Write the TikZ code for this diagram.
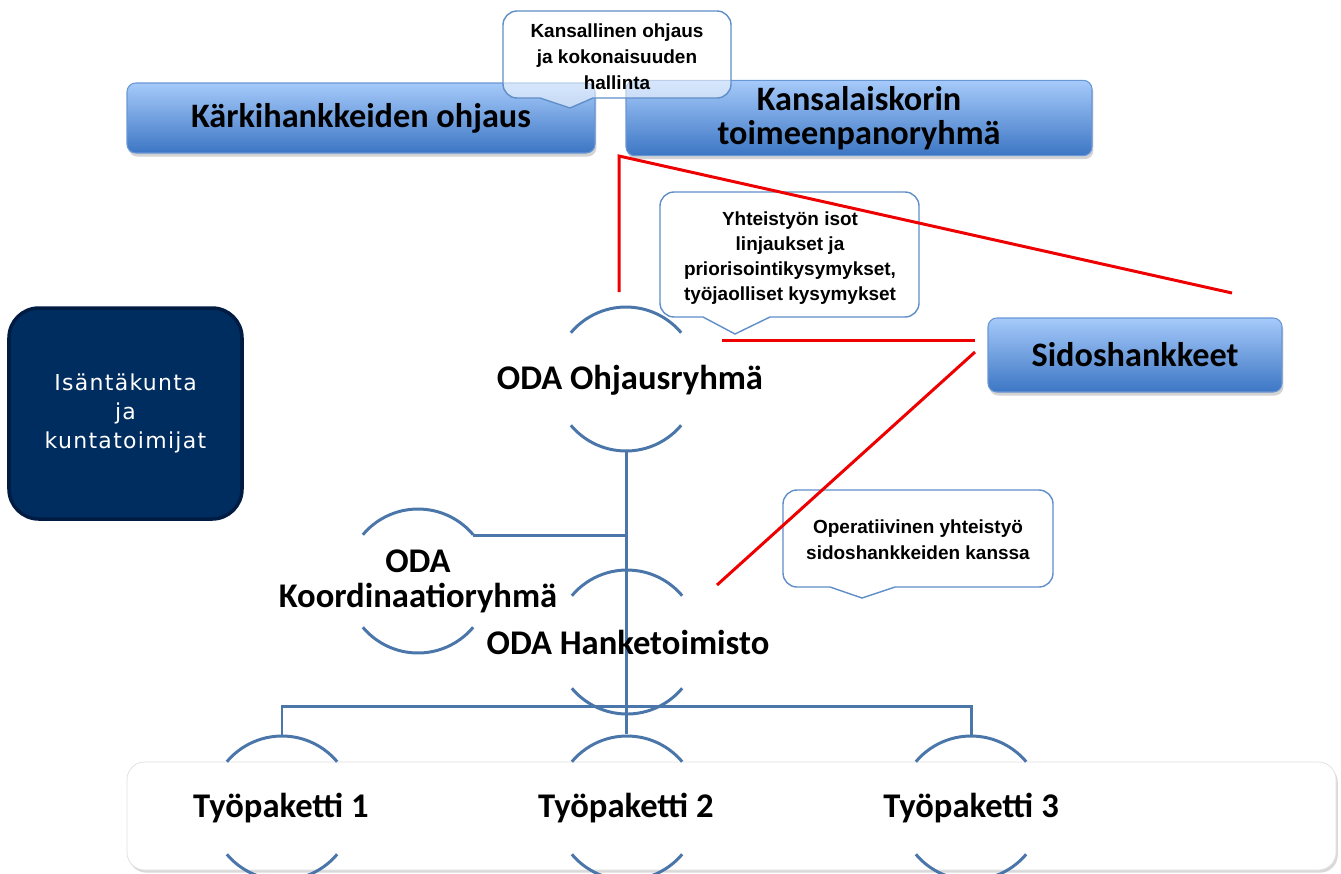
\documentclass[tikz,border=0pt]{standalone}
\usepackage{fontspec}
\setmainfont{Carlito}
\newfontfamily\callf{Liberation Sans}
\newfontfamily\navyf[LetterSpace=6]{DejaVu Sans}
\usetikzlibrary{shadows}
\definecolor{lineblue}{RGB}{74,118,170}
\definecolor{navy}{RGB}{0,45,95}
\definecolor{navyedge}{RGB}{0,28,66}
\definecolor{boxtop}{RGB}{166,202,250}
\definecolor{boxbot}{RGB}{60,118,196}
\definecolor{boxedge}{RGB}{105,150,212}
\definecolor{calledge}{RGB}{95,142,200}
\definecolor{redl}{RGB}{238,0,0}
\newcommand\pxl{*0.02cm}
\begin{document}
\begin{tikzpicture}[x=0.02cm,y=-0.02cm,
  bluebox/.style={rounded corners=5pt, top color=boxtop, bottom color=boxbot, draw=boxedge, line width=0.6pt,
    drop shadow={opacity=0.35, shadow xshift=0.8pt, shadow yshift=-2pt}, font=\bfseries\fontsize{19.5}{19.5}\selectfont, align=center},
  navybox/.style={rounded corners=17pt, fill=navy, draw=navyedge, line width=2pt, text=white, align=center,
    font=\navyf\fontsize{12.5}{16.5}\selectfont},
  band/.style={rounded corners=10pt, fill=white, draw=gray!25, line width=0.4pt,
    drop shadow={opacity=0.3, shadow xshift=1pt, shadow yshift=-1.5pt}},
  conn/.style={draw=lineblue, line width=1.7pt},
  arcline/.style={draw=lineblue, line width=1.7pt},
  redline/.style={draw=redl, line width=1.7pt},
  callbox/.style={draw=calledge, line width=0.8pt, fill=white, sharp corners},
  calltext/.style={align=center, font=\callf\bfseries\fontsize{10.8}{14.7}\selectfont},
  lbl/.style={align=center, font=\bfseries\fontsize{19.7}{20}\selectfont},
  tplbl/.style={align=center, font=\bfseries\fontsize{19.7}{20}\selectfont}]
\useasboundingbox (0,0) rectangle (1341,873);

% bottom band
\node[band, minimum width=1209\pxl, minimum height=108\pxl] (band) at (731.5,816) {};

% connector coordinates
\coordinate (ohB) at (626,451);
\coordinate (koJ) at (626,535);
\coordinate (koR) at (473,535);
\coordinate (tp2T) at (626,734);
\coordinate (hL) at (282,706);
\coordinate (hR) at (971,706);
\coordinate (tp1T) at (282,736);
\coordinate (tp3T) at (971,736);

\draw[conn] (ohB) -- (tp2T);
\draw[conn] (koR) -- (koJ);
\draw[conn] (tp1T) -- (hL) -- (hR) -- (tp3T);

% arcs (circles)
\foreach \cx/\cy in {626/379, 418/581, 627/642, 282/808, 627/808, 971/808}{
  \draw[arcline] (\cx,\cy) ++(220:72) arc[start angle=220, end angle=320, radius=72];
  \draw[arcline] (\cx,\cy) ++(40:72) arc[start angle=40, end angle=140, radius=72];
}

% top boxes
\node[bluebox, minimum width=468\pxl, minimum height=70\pxl] (karki) at (361,118) {K\"arkihankkeiden ohjaus};
\node[bluebox, minimum width=466\pxl, minimum height=70\pxl] (kansa) at (859,118) {Kansalaiskorin\\toimeenpanoryhm\"a};
\node[bluebox, minimum width=294\pxl, minimum height=74\pxl] (sido) at (1135,355) {Sidoshankkeet};
\node[navybox, minimum width=233\pxl, minimum height=211\pxl] (isanta) at (125.5,413.5) {Is\"ant\"akunta\\ja\\kuntatoimijat};

% callout 1
\path[callbox, fill opacity=0.55] (593,98) {[rounded corners=8pt] -- (731,98) -- (731,11) -- (503,11) -- (503,98)} -- (540,98) -- (570,108) -- cycle;
\node[calltext] (c1) at (617,57) {Kansallinen ohjaus\\ja kokonaisuuden\\hallinta};

% callout 2
\path[callbox] (770,317) {[rounded corners=8pt] -- (919,317) -- (919,192) -- (660,192) -- (660,317)} -- (703,317) -- (735,334) -- cycle;
\node[calltext, font=\callf\bfseries\fontsize{10.8}{14.2}\selectfont] (c2) at (790,258) {Yhteisty\"on isot\\linjaukset ja\\priorisointikysymykset,\\ty\"ojaolliset kysymykset};

% callout 3
\path[callbox] (895,587) {[rounded corners=8pt] -- (1053,587) -- (1053,490) -- (783,490) -- (783,587)} -- (830,587) -- (862,598) -- cycle;
\node[calltext] (c3) at (918,540) {Operatiivinen yhteisty\"o\\sidoshankkeiden kanssa};

% red lines
\coordinate (rA) at (619,156);
\coordinate (rB) at (619,292);
\coordinate (rC) at (1232,293);
\coordinate (rD) at (722,340);
\coordinate (rE) at (975,340);
\coordinate (rF) at (975,352);
\coordinate (rG) at (717,585);
\draw[redline] (rB) -- (rA) -- (rC);
\draw[redline] (rD) -- (rE);
\draw[redline] (rF) -- (rG);

% labels
\node[lbl] (oh) at (630,380) {ODA Ohjausryhm\"a};
\node[lbl] (ko) at (418,581) {ODA\\Koordinaatioryhm\"a};
\node[lbl] (ha) at (628,642) {ODA Hanketoimisto};
\node[tplbl] (tp1) at (281,808) {Ty\"opaketti 1};
\node[tplbl] (tp2) at (626,808) {Ty\"opaketti 2};
\node[tplbl] (tp3) at (971,808) {Ty\"opaketti 3};
\end{tikzpicture}
\end{document}
